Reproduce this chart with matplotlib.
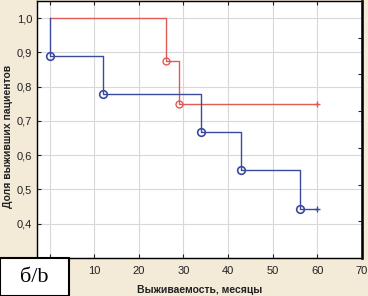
import matplotlib
matplotlib.use("Agg")
import matplotlib.pyplot as plt
from matplotlib.patches import Rectangle

# Data
blue_times = [0, 0, 12, 34, 43, 56, 60]
blue_surv = [1.0, 0.889, 0.778, 0.667, 0.556, 0.444, 0.444]
blue_event_t = [0, 12, 34, 43, 56]
blue_event_s = [0.889, 0.778, 0.667, 0.556, 0.444]

red_times = [0, 26, 29, 60]
red_surv = [1.0, 0.875, 0.75, 0.75]
red_event_t = [26, 29]
red_event_s = [0.875, 0.75]

censor_t = 60
xticks = [0, 10, 20, 30, 40, 50, 60, 70]
xtick_labels = ["", "10", "20", "30", "40", "50", "60", "70"]
yticks = [0.3, 0.4, 0.5, 0.6, 0.7, 0.8, 0.9, 1.0]
ytick_labels = ["", "0,4", "0,5", "0,6", "0,7", "0,8", "0,9", "1,0"]

plt.rcParams['font.family'] = ['Liberation Sans', 'DejaVu Sans']

bg = '#f3ead8'
blue = '#3b4a9e'
red = '#e05a55'

fig = plt.figure(figsize=(3.68, 2.96), dpi=100, facecolor=bg)
ax = fig.add_axes([37/368, 1-258/296, (362-37)/368, 257/296])
ax.set_facecolor('white')

ax.step(red_times, red_surv, where='post', color=red, lw=1.0, zorder=3)
ax.plot(red_event_t, red_event_s, 'o', mfc='none', mec=red, ms=5, mew=1.0, zorder=4)
ax.plot([censor_t], [red_surv[-1]], '+', color=red, ms=5, mew=1.0, zorder=4)

ax.step(blue_times, blue_surv, where='post', color=blue, lw=1.0, zorder=3)
ax.plot(blue_event_t, blue_event_s, 'o', mfc='none', mec=blue, ms=5.5, mew=1.2, zorder=4)
ax.plot([censor_t], [blue_surv[-1]], '+', color=blue, ms=5, mew=1.0, zorder=4)

ax.set_xlim(-2.8, 70)
ax.set_ylim(0.3, 1.05)
ax.set_xticks(xticks)
ax.set_xticklabels(xtick_labels)
ax.set_yticks(yticks)
ax.set_yticklabels(ytick_labels)
ax.grid(True, color='#d8d8d8', lw=0.8)
ax.set_axisbelow(True)
ax.tick_params(axis='both', direction='in', length=3, labelsize=8, colors='#222222',
               top=True, right=False)
ax.tick_params(axis='x', pad=6)
for s in ax.spines.values():
    s.set_color('#222222')
    s.set_linewidth(1.0)
ax.spines['right'].set_linewidth(2.0)

ax2 = ax.twinx()
ax2.set_ylim(0, 7)
ax2.set_yticks([1, 2, 3, 4, 5, 6])
ax2.set_yticklabels([])
ax2.tick_params(axis='y', direction='in', length=3, color='#222222')

ax.set_xlabel("Выживаемость, месяцы", fontsize=7.5, fontweight='bold', labelpad=6, color='#222222')
ax.set_ylabel("Доля выживших пациентов", fontsize=7.5, fontweight='bold', color='#222222')
ax.yaxis.set_label_coords((13 - 37) / 325, (258 - 136) / 257)

fig.patches.append(Rectangle((0, 0), 69/368, 38/296, transform=fig.transFigure,
                             facecolor='white', edgecolor='black', lw=1.5, zorder=10))
fig.text(34/368, 19/296, "б/b", family=['Liberation Serif', 'DejaVu Serif'], fontsize=16,
         ha='center', va='center', zorder=11)

fig.savefig("out.png", dpi=100, facecolor=bg)
